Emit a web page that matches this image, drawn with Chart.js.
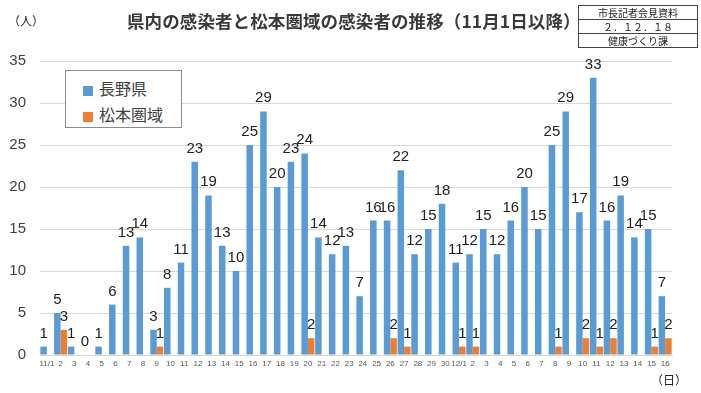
<!DOCTYPE html>
<html lang="ja">
<head>
<meta charset="utf-8">
<script src="https://cdn.jsdelivr.net/npm/chart.js@4"></script>
<style>
  html, body { margin: 0; padding: 0; background: #fff; }
  body { width: 701px; height: 393px; position: relative; overflow: hidden;
         font-family: "Noto Sans CJK JP", "Noto Sans", sans-serif; }
  #wrap { position: absolute; left: 0; top: 0; width: 701px; height: 393px; }
  .title { position: absolute; left: 127px; top: 8px; font-size: 17.5px; letter-spacing: 0.1px; font-weight: bold; color: #3a3a3a; white-space: nowrap; }
  .unit { position: absolute; font-size: 12px; color: #222; }
  .stamp { position: absolute; left: 578px; top: 5px; width: 118px; border: 1px solid #444; font-size: 10px; color: #222; }
  .stamp div { height: 13px; line-height: 13px; text-align: center; border-top: 1px solid #444; }
  .stamp div:first-child { border-top: none; }
  .legend { position: absolute; left: 65px; top: 70px; width: 115px; height: 56px; border: 1px solid #8c8c8c; background: #fff; }
  .legend .item { position: absolute; left: 17px; font-size: 16px; color: #404040; white-space: nowrap; }
  .legend .sw { display: inline-block; width: 10px; height: 10px; margin-right: 6px; vertical-align: -1px; }
</style>
</head>
<body>
<div id="wrap"><canvas id="c" width="701" height="393"></canvas></div>
<div class="title">県内の感染者と松本圏域の感染者の推移（11月1日以降）</div>
<div class="unit" style="left:8px;top:12px;">（人）</div>
<div class="unit" style="left:651px;top:371px;">（日）</div>
<div class="stamp">
  <div>市長記者会見資料</div>
  <div>２．１２．１８</div>
  <div>健康づくり課</div>
</div>
<div class="legend">
  <div class="item" style="top:5px;"><span class="sw" style="background:#5B9BD5"></span>長野県</div>
  <div class="item" style="top:31px;"><span class="sw" style="background:#ED7D31"></span>松本圏域</div>
</div>
<script>
// ---------- DATA ----------
const days = ['11/1','2','3','4','5','6','7','8','9','10','11','12','13','14','15','16','17','18','19','20',
  '21','22','23','24','25','26','27','28','29','30','12/1','2','3','4','5','6','7','8','9','10','11','12','13','14','15','16'];
const nagano = [1,5,1,0,1,6,13,14,3,8,11,23,19,13,10,25,29,20,23,24,
  14,12,13,7,16,16,22,12,15,18,11,12,15,12,16,20,15,25,29,17,33,16,19,14,15,7];
const matsumoto = [0,3,0,0,0,0,0,0,1,0,0,0,0,0,0,0,0,0,0,2,
  0,0,0,0,0,2,1,0,0,0,1,1,0,0,0,0,0,1,0,2,1,2,0,0,1,2];
const yTicks = [0,5,10,15,20,25,30,35];

// value labels above bars
const barLabels = {
  id: 'barLabels',
  afterDatasetsDraw(chart) {
    const ctx = chart.ctx;
    ctx.save();
    ctx.font = '15px "Liberation Sans", Arial, sans-serif';
    ctx.fillStyle = '#222';
    ctx.textAlign = 'center';
    ctx.textBaseline = 'alphabetic';
    chart.data.datasets.forEach((ds, i) => {
      const meta = chart.getDatasetMeta(i);
      meta.data.forEach((el, j) => {
        const v = ds.data[j];
        if (i === 1 && !v) return;
        ctx.fillText(String(v), el.x, el.y - 9);
      });
    });
    ctx.restore();
  }
};

new Chart(document.getElementById('c'), {
  type: 'bar',
  data: {
    labels: days,
    datasets: [
      { label: '長野県', data: nagano, backgroundColor: '#5B9BD5' },
      { label: '松本圏域', data: matsumoto, backgroundColor: '#ED7D31' }
    ]
  },
  options: {
    responsive: false,
    animation: false,
    events: [],
    layout: { padding: { left: 0, right: 29, top: 61, bottom: 23 } },
    datasets: { bar: { categoryPercentage: 0.95, barPercentage: 1.0 } },
    plugins: { legend: { display: false }, tooltip: { enabled: false } },
    scales: {
      x: {
        grid: { display: false, drawTicks: false },
        border: { color: '#d9d9d9' },
        ticks: { font: { size: 8 }, color: '#595959', padding: 4, autoSkip: false, maxRotation: 0 },
        afterFit(s) { s.height = 15; }
      },
      y: {
        min: 0, max: 35,
        afterBuildTicks(s) { s.ticks = yTicks.map(v => ({ value: v })); },
        grid: { color: '#d9d9d9', drawTicks: false },
        border: { display: false },
        ticks: { font: { size: 15, family: '"Liberation Sans", Arial, sans-serif' }, color: '#404040', padding: 14 },
        afterFit(s) { s.width = 40; }
      }
    }
  },
  plugins: [barLabels]
});
</script>
</body>
</html>
